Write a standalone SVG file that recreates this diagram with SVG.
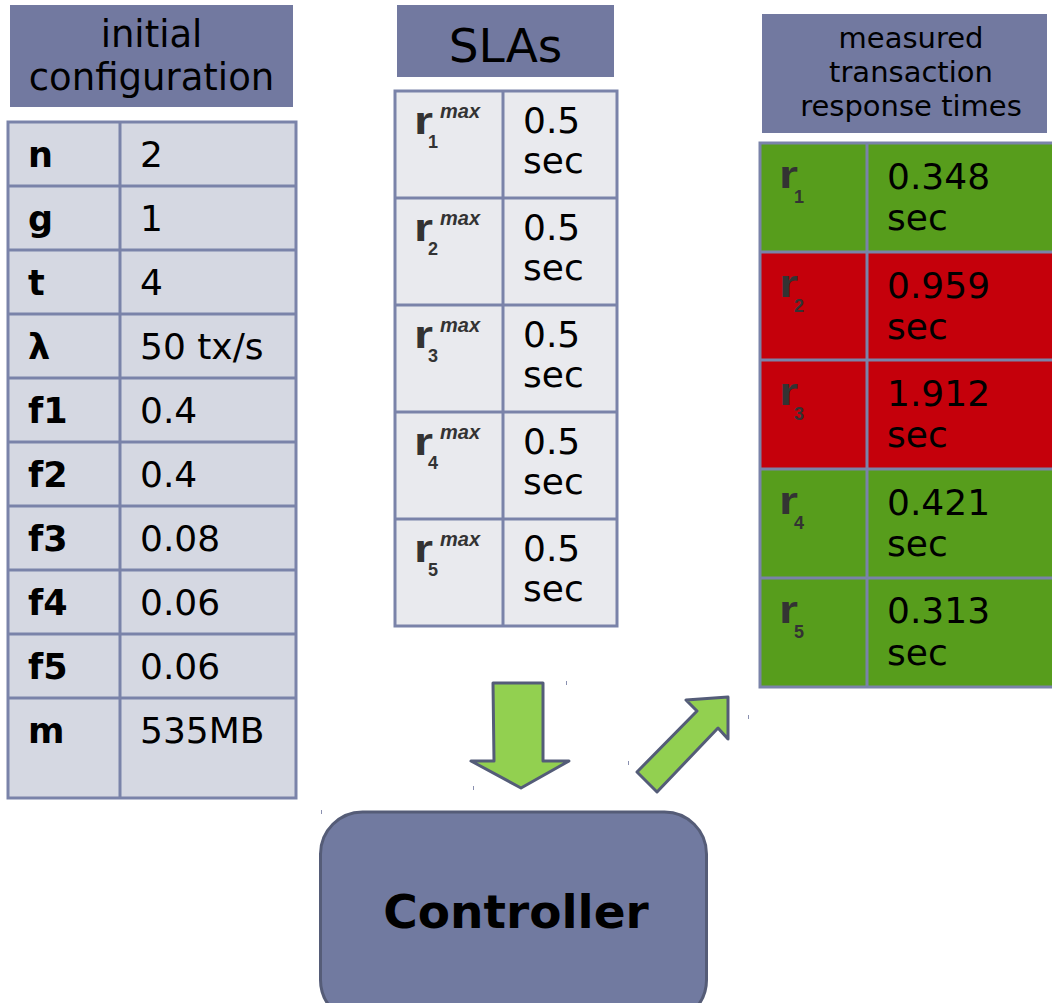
<svg xmlns="http://www.w3.org/2000/svg" width="1052" height="1003" viewBox="0 0 1052 1003">
  <style>
    .hdr { fill: #7279A0; }
    .hdr-text { font-family: "DejaVu Sans", sans-serif; fill: #000; text-anchor: middle; }
    .grid { stroke: #7A83A9; stroke-width: 3; }
    .cfg-cell { fill: #D5D8E2; }
    .sla-cell { fill: #E9EAEE; }
    .ok { fill: #579D1C; }
    .bad { fill: #C5000B; }
    .key { font-family: "DejaVu Sans", sans-serif; font-weight: bold; font-size: 35px; fill: #000; }
    .val { font-family: "DejaVu Sans", sans-serif; font-size: 36px; fill: #000; }
    .r { font-family: "Liberation Sans", Arial, sans-serif; font-weight: bold; fill: #333; }
    .r-main { font-size: 38px; }
    .r-sub { font-size: 18px; }
    .r-max { font-size: 20px; font-style: italic; }
    .arrow { fill: #92D050; stroke: #545C78; stroke-width: 3; stroke-linejoin: round; }
    .tick { stroke: #8A90B0; stroke-width: 1; }
  </style>

  <rect width="1052" height="1003" fill="#ffffff"/>

  <!-- initial configuration -->
  <g id="initial-configuration">
    <rect class="hdr" x="10" y="5" width="283" height="102"/>
    <text class="hdr-text" x="151.5" y="47" font-size="37">initial</text>
    <text class="hdr-text" x="151.5" y="90" font-size="37">configuration</text>

    <rect class="cfg-cell grid" x="8" y="122" width="288" height="676"/>
    <g class="grid">
      <line x1="120" y1="122" x2="120" y2="798"/>
      <line x1="8" y1="186" x2="296" y2="186"/>
      <line x1="8" y1="250" x2="296" y2="250"/>
      <line x1="8" y1="314" x2="296" y2="314"/>
      <line x1="8" y1="378" x2="296" y2="378"/>
      <line x1="8" y1="442" x2="296" y2="442"/>
      <line x1="8" y1="506" x2="296" y2="506"/>
      <line x1="8" y1="570" x2="296" y2="570"/>
      <line x1="8" y1="634" x2="296" y2="634"/>
      <line x1="8" y1="698" x2="296" y2="698"/>
    </g>
    <text class="key" x="28" y="167">n</text><text class="val" x="140" y="167">2</text>
    <text class="key" x="28" y="231">g</text><text class="val" x="140" y="231">1</text>
    <text class="key" x="28" y="295">t</text><text class="val" x="140" y="295">4</text>
    <text class="key" x="28" y="359">λ</text><text class="val" x="140" y="359">50 tx/s</text>
    <text class="key" x="28" y="423">f1</text><text class="val" x="140" y="423">0.4</text>
    <text class="key" x="28" y="487">f2</text><text class="val" x="140" y="487">0.4</text>
    <text class="key" x="28" y="551">f3</text><text class="val" x="140" y="551">0.08</text>
    <text class="key" x="28" y="615">f4</text><text class="val" x="140" y="615">0.06</text>
    <text class="key" x="28" y="679">f5</text><text class="val" x="140" y="679">0.06</text>
    <text class="key" x="28" y="743">m</text><text class="val" x="140" y="743">535MB</text>
  </g>

  <!-- SLAs -->
  <g id="slas">
    <rect class="hdr" x="397" y="5" width="217" height="72"/>
    <text class="hdr-text" x="505.5" y="62" font-size="47">SLAs</text>

    <rect class="sla-cell grid" x="395" y="91" width="222" height="535"/>
    <g class="grid">
      <line x1="503" y1="91" x2="503" y2="626"/>
      <line x1="395" y1="198" x2="617" y2="198"/>
      <line x1="395" y1="305" x2="617" y2="305"/>
      <line x1="395" y1="412" x2="617" y2="412"/>
      <line x1="395" y1="519" x2="617" y2="519"/>
    </g>
    <g class="r">
      <text class="r-main" x="414" y="134" textLength="19" lengthAdjust="spacingAndGlyphs">r</text><text class="r-sub" x="428" y="148">1</text><text class="r-max" x="440" y="118">max</text>
      <text class="r-main" x="414" y="241" textLength="19" lengthAdjust="spacingAndGlyphs">r</text><text class="r-sub" x="428" y="255">2</text><text class="r-max" x="440" y="225">max</text>
      <text class="r-main" x="414" y="348" textLength="19" lengthAdjust="spacingAndGlyphs">r</text><text class="r-sub" x="428" y="362">3</text><text class="r-max" x="440" y="332">max</text>
      <text class="r-main" x="414" y="455" textLength="19" lengthAdjust="spacingAndGlyphs">r</text><text class="r-sub" x="428" y="469">4</text><text class="r-max" x="440" y="439">max</text>
      <text class="r-main" x="414" y="562" textLength="19" lengthAdjust="spacingAndGlyphs">r</text><text class="r-sub" x="428" y="576">5</text><text class="r-max" x="440" y="546">max</text>
    </g>
    <text class="val" x="523" y="133">0.5</text><text class="val" x="523" y="173">sec</text>
    <text class="val" x="523" y="240">0.5</text><text class="val" x="523" y="280">sec</text>
    <text class="val" x="523" y="347">0.5</text><text class="val" x="523" y="387">sec</text>
    <text class="val" x="523" y="454">0.5</text><text class="val" x="523" y="494">sec</text>
    <text class="val" x="523" y="561">0.5</text><text class="val" x="523" y="601">sec</text>
  </g>

  <!-- measured transaction response times -->
  <g id="measured-response-times">
    <rect class="hdr" x="762" y="14" width="285" height="119"/>
    <text class="hdr-text" x="911" y="48" font-size="29">measured</text>
    <text class="hdr-text" x="911" y="82" font-size="29">transaction</text>
    <text class="hdr-text" x="911" y="116" font-size="29">response times</text>

    <rect class="ok" x="760" y="143" width="294" height="109"/>
    <rect class="bad" x="760" y="252" width="294" height="108"/>
    <rect class="bad" x="760" y="360" width="294" height="109"/>
    <rect class="ok" x="760" y="469" width="294" height="109"/>
    <rect class="ok" x="760" y="578" width="294" height="109"/>
    <g class="grid" fill="none">
      <rect x="760" y="143" width="300" height="544"/>
      <line x1="867" y1="143" x2="867" y2="687"/>
      <line x1="760" y1="252" x2="1054" y2="252"/>
      <line x1="760" y1="360" x2="1054" y2="360"/>
      <line x1="760" y1="469" x2="1054" y2="469"/>
      <line x1="760" y1="578" x2="1054" y2="578"/>
    </g>
    <g class="r">
      <text class="r-main" x="779" y="188" textLength="19" lengthAdjust="spacingAndGlyphs">r</text><text class="r-sub" x="794" y="203">1</text>
      <text class="r-main" x="779" y="297" textLength="19" lengthAdjust="spacingAndGlyphs">r</text><text class="r-sub" x="794" y="312">2</text>
      <text class="r-main" x="779" y="405" textLength="19" lengthAdjust="spacingAndGlyphs">r</text><text class="r-sub" x="794" y="420">3</text>
      <text class="r-main" x="779" y="514" textLength="19" lengthAdjust="spacingAndGlyphs">r</text><text class="r-sub" x="794" y="529">4</text>
      <text class="r-main" x="779" y="623" textLength="19" lengthAdjust="spacingAndGlyphs">r</text><text class="r-sub" x="794" y="638">5</text>
    </g>
    <text class="val" x="887" y="189">0.348</text><text class="val" x="887" y="230">sec</text>
    <text class="val" x="887" y="298">0.959</text><text class="val" x="887" y="339">sec</text>
    <text class="val" x="887" y="406">1.912</text><text class="val" x="887" y="447">sec</text>
    <text class="val" x="887" y="515">0.421</text><text class="val" x="887" y="556">sec</text>
    <text class="val" x="887" y="623">0.313</text><text class="val" x="887" y="665">sec</text>
  </g>

  <!-- Controller -->
  <g id="controller">
    <rect x="320.5" y="812" width="386" height="210" rx="42" ry="42" fill="#717AA0" stroke="#555C77" stroke-width="3"/>
    <text x="516" y="928" font-family="DejaVu Sans, sans-serif" font-weight="bold" font-size="47" text-anchor="middle" fill="#000">Controller</text>
  </g>

  <!-- connectors: SLAs into the controller, measurements out of it -->
  <g id="connectors">
    <polygon class="arrow" points="493,683 543,683 543,761 569,761 521,788 471,761 494,761"/>
    <polygon class="arrow" points="637,772 697,711 686,700 728,697 728,739 718,728 657,792"/>
    <g class="tick">
      <line x1="566.5" y1="681" x2="566.5" y2="685"/>
      <line x1="473.5" y1="786" x2="473.5" y2="790"/>
      <line x1="628.5" y1="761" x2="628.5" y2="765"/>
      <line x1="748.5" y1="715" x2="748.5" y2="719"/>
      <line x1="321.5" y1="810" x2="321.5" y2="814"/>
    </g>
  </g>
</svg>
